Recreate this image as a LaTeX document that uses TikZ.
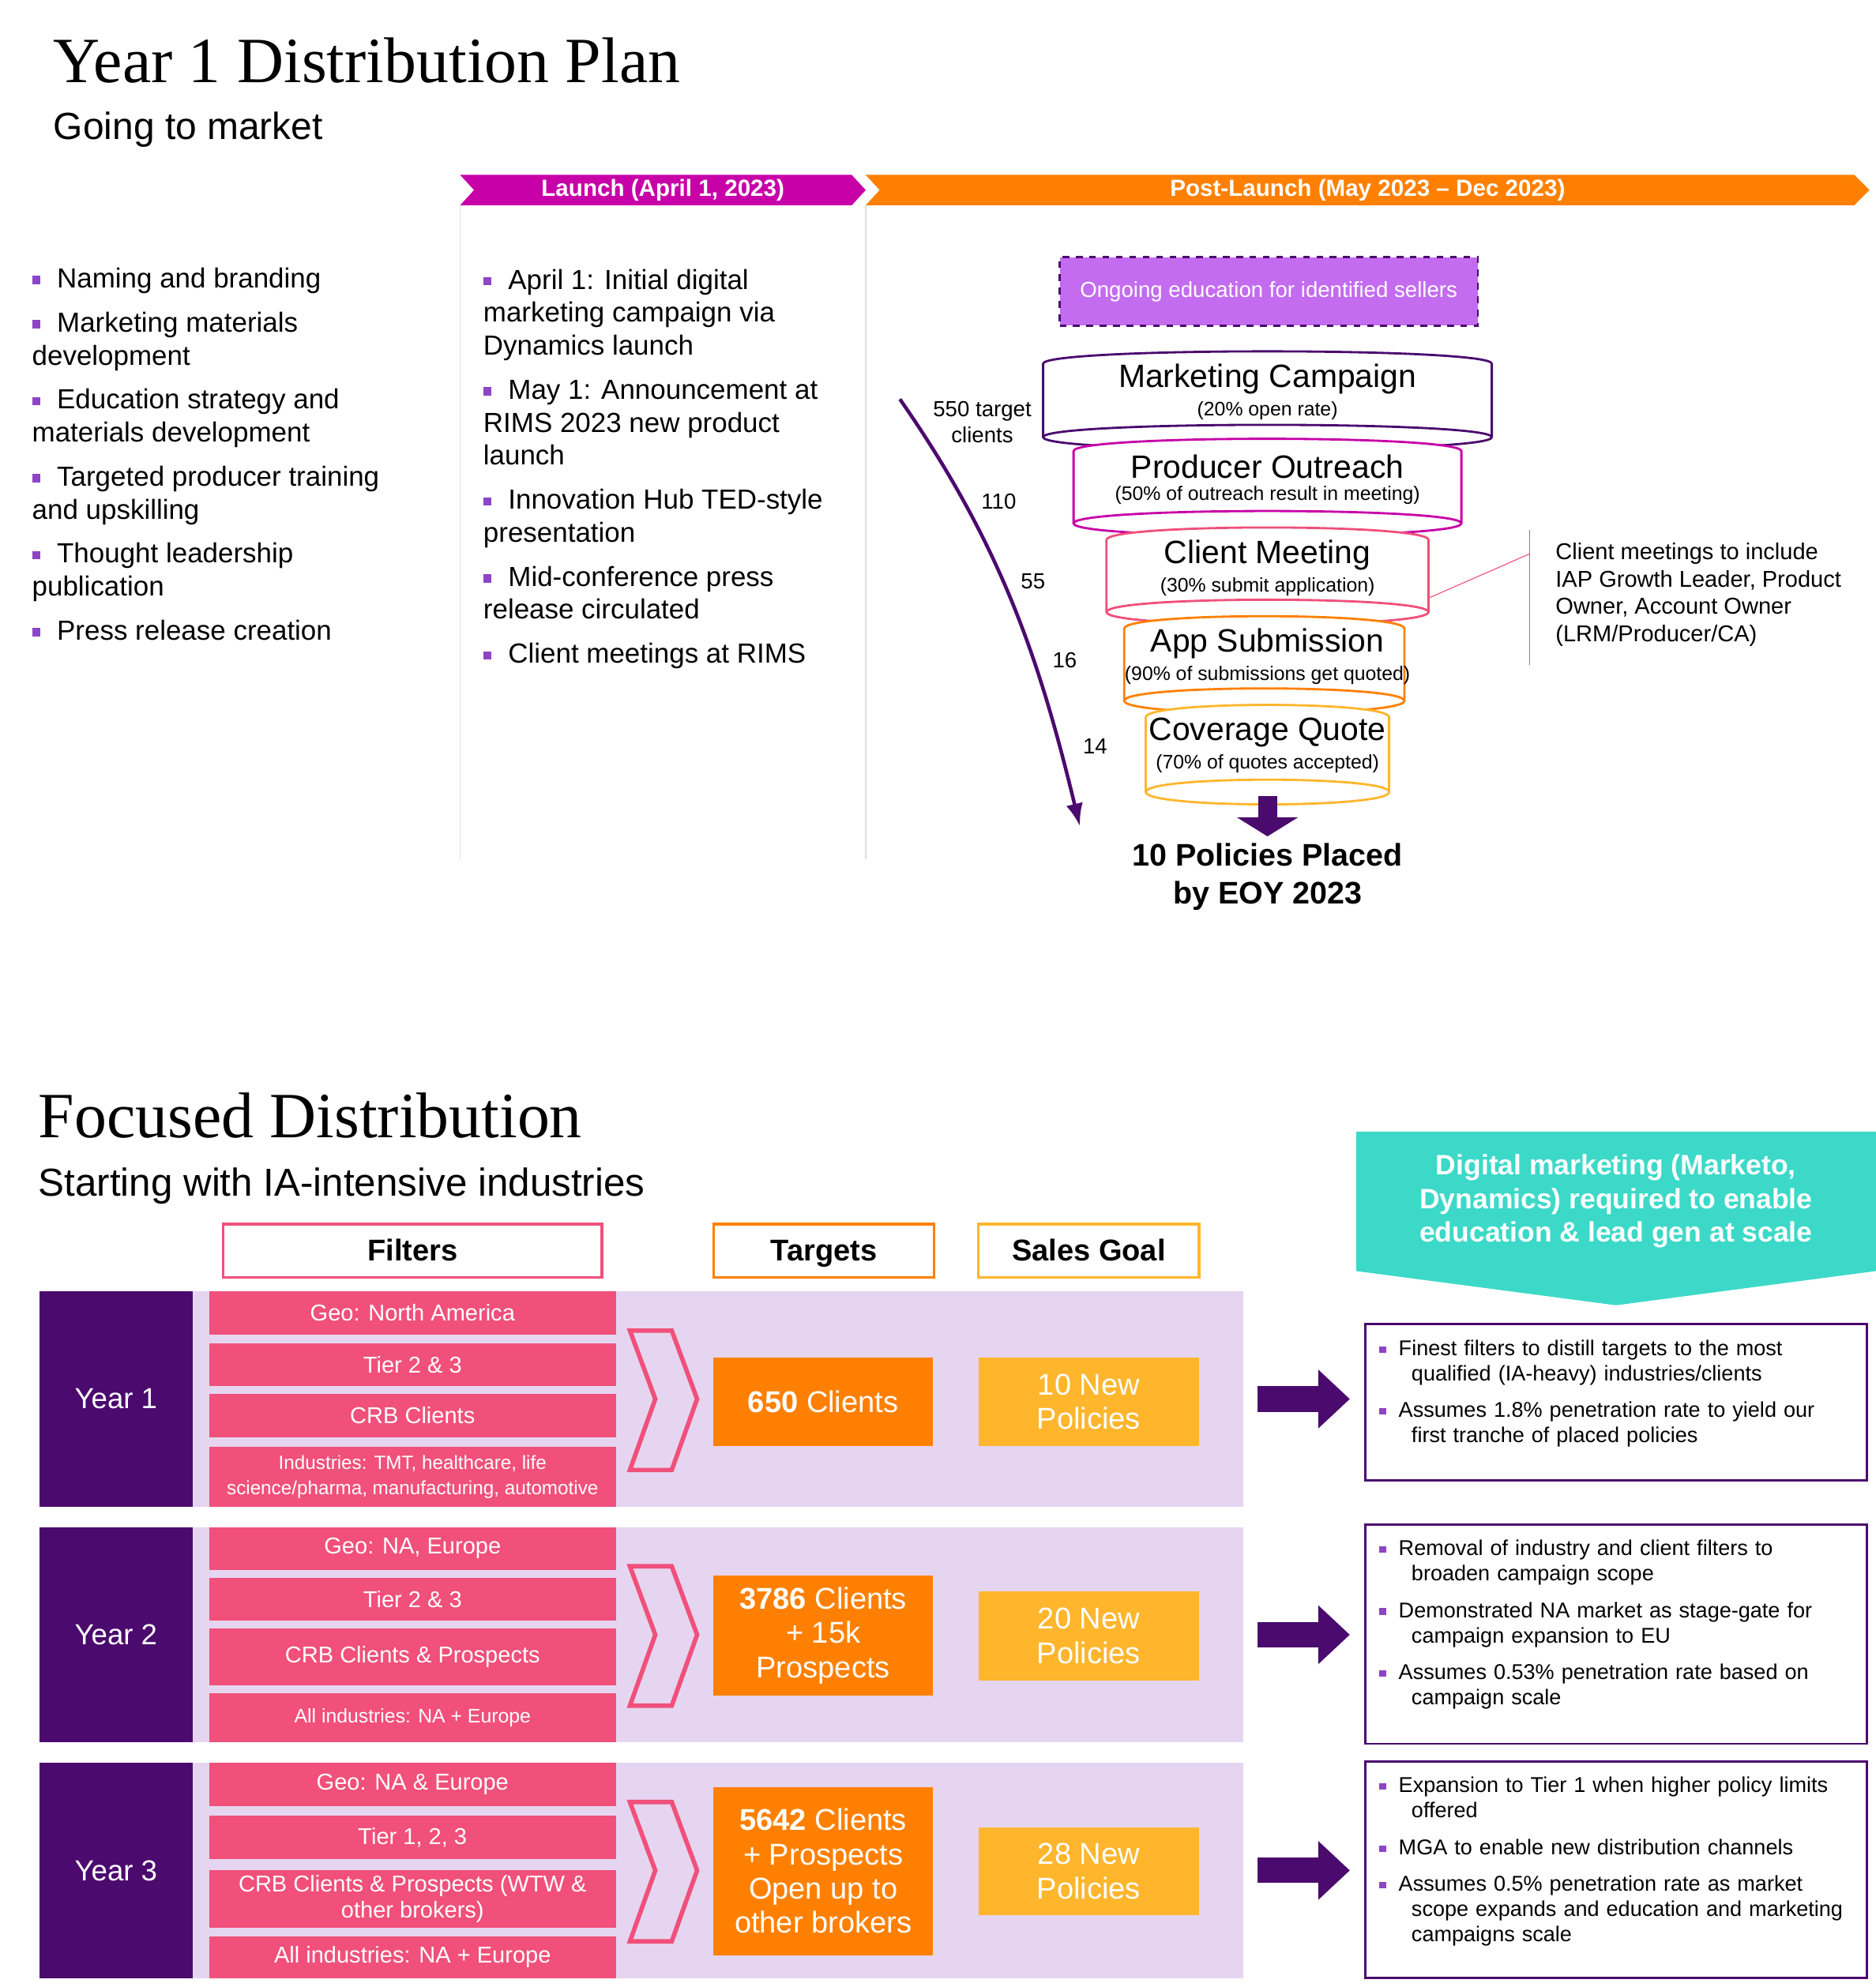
\documentclass[tikz,border=0pt]{standalone}
\usepackage{fontspec}
\setmainfont{Liberation Sans}
\newfontfamily\titlefont{Liberation Serif}
\usetikzlibrary{arrows.meta, positioning, shapes.geometric}
\definecolor{darkpurple}{HTML}{4B0A6E}
\definecolor{magentaC}{HTML}{C800A8}
\definecolor{pinkC}{HTML}{F0507A}
\definecolor{orangeC}{HTML}{FF8000}
\definecolor{goldC}{HTML}{FFB62D}
\definecolor{lavC}{HTML}{E6D5F0}
\definecolor{tealC}{HTML}{3CD9C8}
\definecolor{violetC}{HTML}{C36CF0}
\definecolor{bulletC}{HTML}{8E44C6}
\newcommand{\bul}{\textcolor{bulletC}{\raisebox{0.25ex}{\rule{0.3em}{0.3em}}}\hspace{0.6em}}

\begin{document}
\begin{tikzpicture}[x=0.02cm, y=-0.02cm, >=Latex,
    txt/.style={inner sep=0, align=left, anchor=north west, font=\fontsize{12.4}{14.8}\selectfont},
    note/.style={inner sep=0, align=left, anchor=north west, font=\fontsize{9.6}{11.4}\selectfont, text width=7.6cm},
    bar/.style={fill=pinkC, draw=none, text=white, align=center, font=\fontsize{10.3}{11.5}\selectfont},
    hdr/.style={fill=white, line width=1.2pt, text height=2ex, text depth=0.3ex, font=\bfseries\fontsize{13.5}{16}\selectfont},
    fat/.style={-{Triangle[length=0.5cm,width=0.9cm]}, line width=0.4cm, darkpurple}]

    \useasboundingbox (0,0) rectangle (1480,1568);

    % Titles
    \node[anchor=west, inner sep=0, font=\titlefont\fontsize{29}{32}\selectfont] (title1) at (42,48) {Year 1 Distribution Plan};
    \node[anchor=west, inner sep=0, font=\fontsize{17}{20}\selectfont] (sub1) at (42,102) {Going to market};

    % Phase banners
    \fill[magentaC] (363,138) -- (672,138) -- (683,150) -- (672,162) -- (363,162) -- (374,150) -- cycle;
    \node[text=white, font=\bfseries\fontsize{10.5}{12}\selectfont] (launch) at (523,150) {Launch (April 1, 2023)};
    \fill[orangeC] (683,138) -- (1463,138) -- (1475,150) -- (1463,162) -- (683,162) -- (694,150) -- cycle;
    \node[text=white, font=\bfseries\fontsize{10.5}{12}\selectfont] (post) at (1079,150) {Post-Launch (May 2023 -- Dec 2023)};
    \draw[gray!25] (363,162) -- (363,678);
    \draw[gray!25] (683,162) -- (683,678);

    % Bullet lists
    \node[txt] (prep) at (25,211) {\bul Naming and branding\\[5pt]\bul Marketing materials\\development\\[5pt]\bul Education strategy and\\materials development\\[5pt]\bul Targeted producer training\\and upskilling\\[5pt]\bul Thought leadership\\publication\\[5pt]\bul Press release creation};
    \node[txt] (launchlist) at (381,212) {\bul April 1: Initial digital\\marketing campaign via\\Dynamics launch\\[5pt]\bul May 1: Announcement at\\RIMS 2023 new product\\launch\\[5pt]\bul Innovation Hub TED-style\\presentation\\[5pt]\bul Mid-conference press\\release circulated\\[5pt]\bul Client meetings at RIMS};

    % Funnel
    \node[draw=darkpurple, dashed, line width=1pt, fill=violetC, text=white, minimum width=6.6cm, minimum height=1.08cm, font=\fontsize{9.8}{11}\selectfont] (edu) at (1001,230) {Ongoing education for identified sellers};
    \foreach \xa/\xb/\yt/\yb/\col in {823/1177/287/345/darkpurple, 847/1153/356/413/magentaC, 873/1127/426/483/pinkC, 887/1108/496/553/orangeC, 904/1096/566/625/goldC} {
      \draw[\col, line width=1pt, fill=white] (\xa,\yb) -- (\xa,\yt) .. controls (\xa,\yt-13) and (\xb,\yt-13) .. (\xb,\yt) -- (\xb,\yb)
        .. controls (\xb,\yb+13) and (\xa,\yb+13) .. (\xa,\yb) .. controls (\xa,\yb-13) and (\xb,\yb-13) .. (\xb,\yb);
    }
    \foreach \nm/\yt/\ttl/\sub in {mc/287/Marketing Campaign/(20\% open rate), po/356/Producer Outreach/(50\% of outreach result in meeting), cm/426/Client Meeting/(30\% submit application), as/496/App Submission/(90\% of submissions get quoted), cq/566/Coverage Quote/(70\% of quotes accepted)} {
      \node[font=\fontsize{14.5}{16}\selectfont, inner sep=0] (\nm) at (1000,\yt+12) {\ttl};
      \node[font=\fontsize{8.8}{10}\selectfont, inner sep=0, below=3pt of \nm] (\nm-sub) {\sub};
    }
    \node[align=center, font=\bfseries\fontsize{14}{17}\selectfont] (placed) at (1000,692) {10 Policies Placed\\by EOY 2023};
    \coordinate (dtop) at (1000,628);
    \draw[-{Triangle[length=0.3cm,width=0.95cm]}, line width=0.3cm, darkpurple] (dtop) -- ++(0,32);

    % Conversion arrow
    \coordinate (cstart) at (710,315);
    \coordinate (cend) at (852,652);
    \draw[->, darkpurple, line width=1.6pt] (cstart) .. controls (790,430) and (820,520) .. (cend);
    \node[align=center, font=\fontsize{9.8}{11.5}\selectfont] (n550) at (775,333) {550 target\\clients};
    \foreach \nm/\v/\px/\py in {n110/110/788/396, n55/55/815/459, n16/16/840/521, n14/14/864/589}
      \node[font=\fontsize{9.8}{11}\selectfont] (\nm) at (\px,\py) {\v};

    % Callout
    \coordinate (cedge) at (1127,472);
    \coordinate (cbar) at (1207,437);
    \draw[pinkC] (1207,418) -- (1207,525);
    \draw[pinkC] (cedge) -- (cbar);
    \node[inner sep=0, anchor=north west, align=left, font=\fontsize{10.3}{12.3}\selectfont] (callout) at (1227,428) {Client meetings to include\\IAP Growth Leader, Product\\Owner, Account Owner\\(LRM/Producer/CA)};

    % Focused distribution
    \node[anchor=west, inner sep=0, font=\titlefont\fontsize{29}{32}\selectfont] (title2) at (30,880) {Focused Distribution};
    \node[anchor=west, inner sep=0, font=\fontsize{17.5}{20}\selectfont] (sub2) at (30,936) {Starting with IA-intensive industries};
    \fill[tealC] (1070,893) -- (1480,893) -- (1480,1003) -- (1275,1030) -- (1070,1003) -- cycle;
    \node[text=white, align=center, font=\bfseries\fontsize{12.6}{15}\selectfont] (digital) at (1275,948) {Digital marketing (Marketo,\\Dynamics) required to enable\\education \& lead gen at scale};

    \node[hdr, draw=pinkC, minimum width=5.98cm, minimum height=0.84cm] (filters) at (325.5,987) {Filters};
    \node[hdr, draw=orangeC, minimum width=3.48cm, minimum height=0.84cm] (targets) at (650,987) {Targets};
    \node[hdr, draw=goldC, minimum width=3.48cm, minimum height=0.84cm] (goal) at (859,987) {Sales Goal};

    % Rows
    \foreach \r/\yt/\yb in {1/1019/1189, 2/1205/1375, 3/1391/1561} {
      \fill[lavC] (152,\yt) rectangle (981,\yb);
      \fill[darkpurple] (31,\yt) rectangle (152,\yb);
      \node[text=white, font=\fontsize{13}{15}\selectfont] (year\r) at (91.5,{(\yt+\yb)/2}) {Year \r};
      \draw[pinkC, line width=2pt] (497,\yt+31) -- (530,\yt+31) -- (550,{(\yt+\yb)/2}) -- (530,\yb-29) -- (497,\yb-29) -- (517,{(\yt+\yb)/2}) -- cycle;
      \coordinate (arr\r) at (992,{(\yt+\yb)/2});
      \draw[fat] (arr\r) -- ++(73,0);
    }
    \foreach \nm/\yt/\yb/\t in {a1/1019/1053/Geo: North America, a2/1060/1094/Tier 2 \& 3, a3/1100/1134/CRB Clients, a4/1142/1189/{\fontsize{8.6}{10.4}\selectfont Industries: TMT, healthcare, life\\\fontsize{8.6}{10.4}\selectfont science/pharma, manufacturing, automotive},
        b1/1205/1239/{Geo: NA, Europe}, b2/1245/1279/Tier 2 \& 3, b3/1285/1330/CRB Clients \& Prospects, b4/1336/1375/{\fontsize{8.8}{10}\selectfont All industries: NA + Europe},
        c1/1391/1425/Geo: NA \& Europe, c2/1433/1467/{Tier 1, 2, 3}, c3/1476/1521/{CRB Clients \& Prospects (WTW \&\\other brokers)}, c4/1528/1561/All industries: NA + Europe}
      \node[bar, minimum width=6.42cm, minimum height={(\yb-\yt)*0.02cm}, inner sep=0] (\nm) at (325.5,{(\yt+\yb)/2}) {\t};

    \foreach \nm/\yt/\yb/\t in {t1/1071/1141/{\textbf{650} Clients}, t2/1243/1338/{\textbf{3786} Clients\\+ 15k\\Prospects}, t3/1410/1543/{\textbf{5642} Clients\\+ Prospects\\Open up to\\other brokers}}
      \node[fill=orangeC, text=white, align=center, minimum width=3.46cm, minimum height={(\yb-\yt)*0.02cm}, inner sep=0, font=\fontsize{13.5}{15.4}\selectfont] (\nm) at (649.5,{(\yt+\yb)/2}) {\t};
    \foreach \nm/\yt/\yb/\t in {g1/1071/1141/10, g2/1256/1326/20, g3/1442/1511/28}
      \node[fill=goldC, text=white, align=center, minimum width=3.48cm, minimum height={(\yb-\yt)*0.02cm}, inner sep=0, font=\fontsize{13.5}{15.4}\selectfont] (\nm) at (859,{(\yt+\yb)/2}) {\t{} New\\Policies};

    % Notes
    \draw[darkpurple, line width=1pt] (1077,1045) rectangle (1473,1168);
    \draw[darkpurple, line width=1pt] (1077,1203) rectangle (1473,1376);
    \draw[darkpurple, line width=1pt] (1077,1390) rectangle (1473,1561);
    \node[note] (note1) at (1088,1057) {\bul Finest filters to distill targets to the most\\\hspace{1.5em}qualified (IA-heavy) industries/clients\\[5pt]\bul Assumes 1.8\% penetration rate to yield our\\\hspace{1.5em}first tranche of placed policies};
    \node[note] (note2) at (1088,1215) {\bul Removal of industry and client filters to\\\hspace{1.5em}broaden campaign scope\\[5pt]\bul Demonstrated NA market as stage-gate for\\\hspace{1.5em}campaign expansion to EU\\[5pt]\bul Assumes 0.53\% penetration rate based on\\\hspace{1.5em}campaign scale};
    \node[note] (note3) at (1088,1402) {\bul Expansion to Tier 1 when higher policy limits\\\hspace{1.5em}offered\\[5pt]\bul MGA to enable new distribution channels\\[5pt]\bul Assumes 0.5\% penetration rate as market\\\hspace{1.5em}scope expands and education and marketing\\\hspace{1.5em}campaigns scale};

\end{tikzpicture}
\end{document}
